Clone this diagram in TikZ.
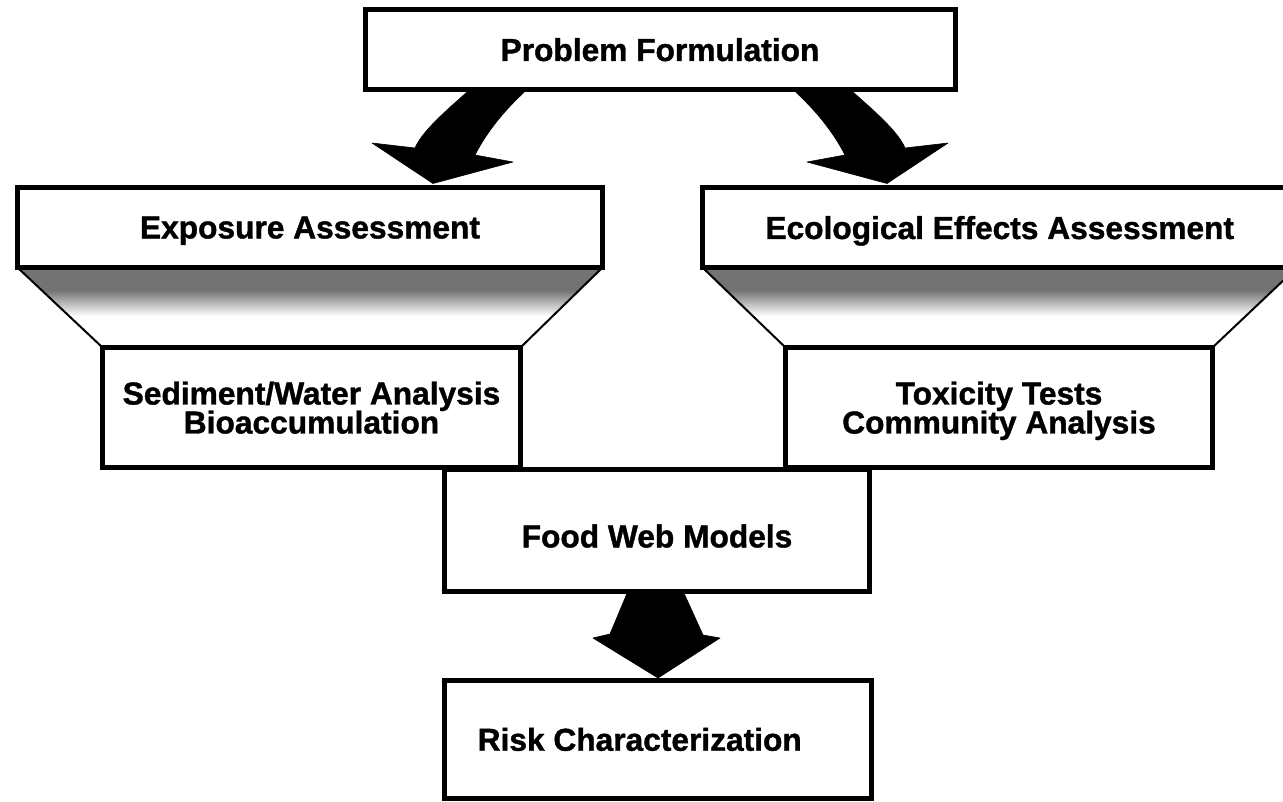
\documentclass[tikz,border=0pt]{standalone}
\usepackage{fontspec}
\setmainfont{Liberation Sans}[BoldFeatures={FakeBold=1.2}]
\usetikzlibrary{calc}
\pgfdeclarelayer{background}
\pgfsetlayers{background,main}
\newcommand\diagfont{\fontsize{31.7}{29}\selectfont\bfseries\lineskiplimit=-100pt\relax}
\begin{document}
\begin{tikzpicture}[x=1pt,y=-1pt,
  box/.style={draw=black, line width=5pt, fill=white, rectangle, inner sep=0pt,
    outer sep=0pt, text depth=0pt, align=center, font=\diagfont},
  sideline/.style={draw=black, line width=2pt},
  bigarrow/.style={fill=black, draw=black, line width=0.6pt, line join=round},
  stipple/.style={fill=black!55},
  fade/.style={top color=black!55, bottom color=white}
]
\useasboundingbox (0,0) rectangle (1283,801);
\clip (0,0) rectangle (1283,801);
% boxes
\node[box, minimum width=590pt, minimum height=80pt] (prob) at (660,49.5) {Problem Formulation};
\node[box, minimum width=585pt, minimum height=80pt] (expo) at (310,227.5) {Exposure Assessment};
\node[box, minimum width=594.5pt, minimum height=80pt] (eco) at (999.75,227.5) {Ecological Effects Assessment};
\node[box, minimum width=418pt, minimum height=120pt] (sed) at (311.5,407.5) {Sediment/Water Analysis\\Bioaccumulation};
\node[box, minimum width=427pt, minimum height=120pt] (tox) at (999,407.5) {Toxicity Tests\\Community Analysis};
\node[box, minimum width=425pt, minimum height=122pt, text height=34.8pt] (food) at (657,530) {Food Web Models};
\node[box, minimum width=426.5pt, minimum height=118.5pt] (risk) at (657.75,739.25) {Risk Characterization\hspace*{36pt}};

% funnels behind the boxes
\begin{pgfonlayer}{background}
  \fill[white] (0,0) rectangle (1283,801);
  \begin{scope}
    \clip (expo.south west) -- (expo.south east) -- (sed.north east) -- (sed.north west) -- cycle;
    \fill[stipple] (0,267.5) rectangle (1300,290);
    \shade[fade] (0,290) rectangle (1300,316);
  \end{scope}
  \begin{scope}
    \clip (eco.south west) -- (eco.south east) -- (tox.north east) -- (tox.north west) -- cycle;
    \fill[stipple] (0,267.5) rectangle (1300,290);
    \shade[fade] (0,290) rectangle (1300,316);
  \end{scope}
  \draw[sideline] (expo.south west) -- (sed.north west);
  \draw[sideline] (expo.south east) -- (sed.north east);
  \draw[sideline] (eco.south west) -- (tox.north west);
  \draw[sideline] (eco.south east) -- (tox.north east);
\end{pgfonlayer}

% curved arrows from Problem Formulation
\begin{scope}[shift={(prob.south)}]
  \fill[bigarrow] (-190,0) .. controls (-215,22) and (-238,42) .. (-245,58.5)
    -- (-288,53.5) -- (-227,94) -- (-147,72.5) -- (-185,65.5)
    .. controls (-173,42) and (-155,20) .. (-133,0) -- cycle;
\end{scope}
\begin{scope}[shift={(prob.south)}, xscale=-1]
  \fill[bigarrow] (-190,0) .. controls (-215,22) and (-238,42) .. (-245,58.5)
    -- (-288,53.5) -- (-227,94) -- (-147,72.5) -- (-185,65.5)
    .. controls (-173,42) and (-155,20) .. (-133,0) -- cycle;
\end{scope}
% straight arrow from Food Web Models to Risk Characterization
\begin{scope}[shift={(food.south)}]
  \fill[bigarrow] (-29,0) -- (-47,43) -- (-64,47) -- (1,87) -- (63,47) -- (46,44) -- (26,0) -- cycle;
\end{scope}
\end{tikzpicture}
\end{document}
